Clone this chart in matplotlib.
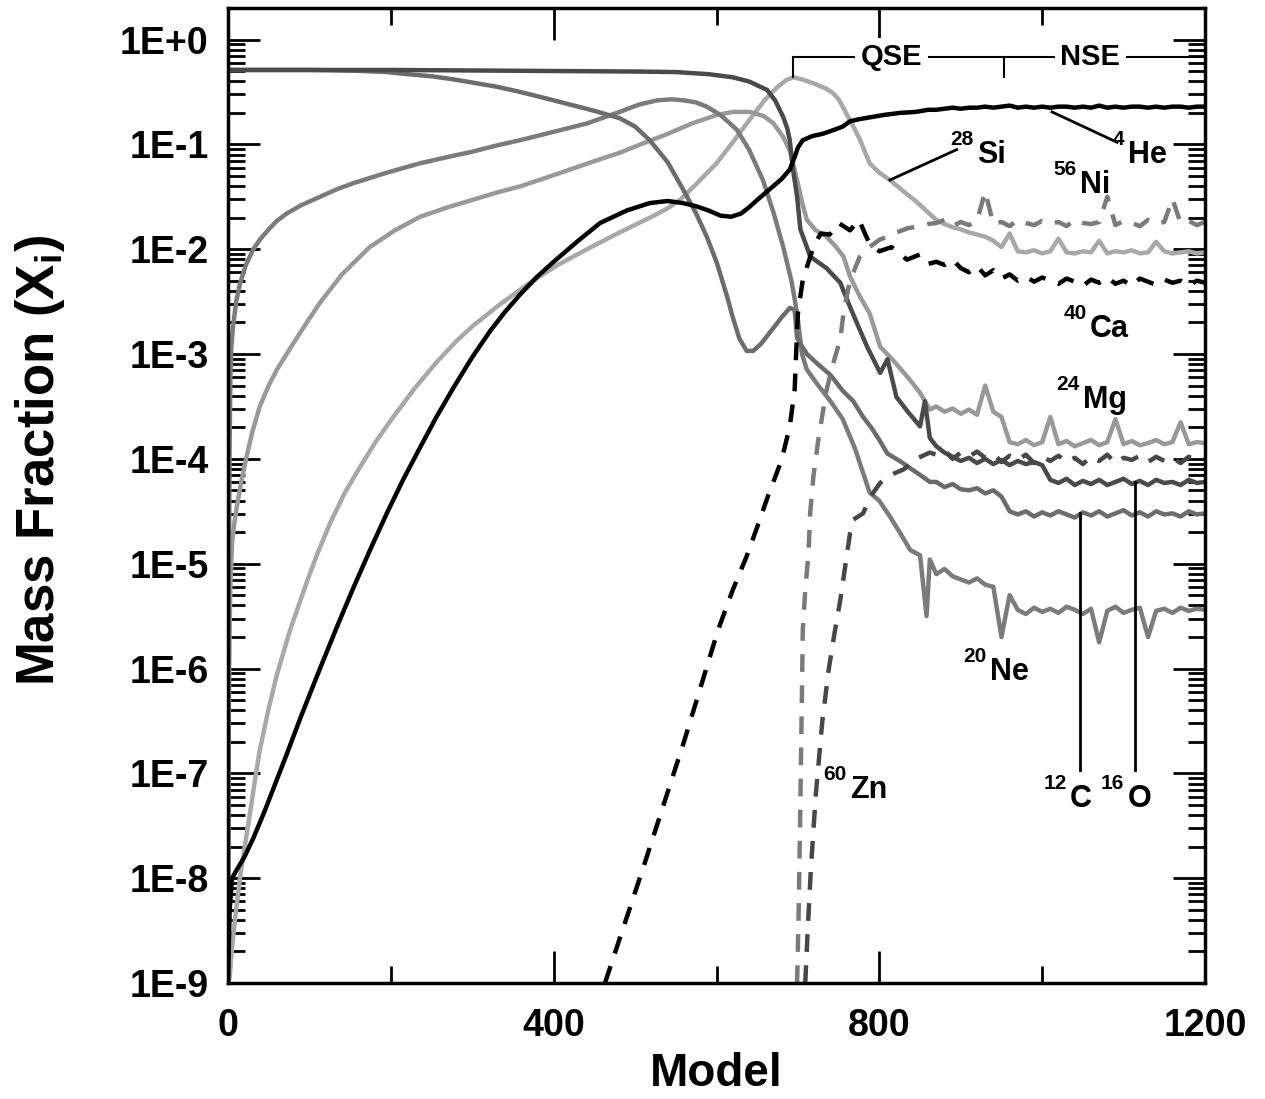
import numpy as np
import matplotlib
matplotlib.use("Agg")
import matplotlib.pyplot as plt

plt.rcParams["font.family"] = ["Liberation Sans", "DejaVu Sans"]
plt.rcParams["font.weight"] = "bold"
plt.rcParams["mathtext.fontset"] = "custom"
plt.rcParams["mathtext.rm"] = "Liberation Sans:bold"
plt.rcParams["mathtext.bf"] = "Liberation Sans:bold"

# ---- data: model number vs log10(mass fraction) ----
# noisy tails share one model grid
tail_model = list(range(870, 1201, 10))

he_x = [0, 2, 5, 10, 20, 31, 45, 60, 72, 90, 113, 135, 154, 175, 195, 215, 236, 256, 277,
        300, 322, 340, 359, 380, 400, 430, 457, 490, 518, 540, 559, 575, 590, 605, 618, 630,
        640, 650, 665, 680, 690, 696, 700, 706, 718, 730, 745, 755, 764, 775, 790, 805, 825,
        845, 860]
he_y = [-9.0, -8.3, -8.0, -7.93, -7.80, -7.62, -7.36, -7.06, -6.82, -6.45, -6.0, -5.58,
        -5.23, -4.86, -4.52, -4.20, -3.89, -3.60, -3.32, -3.03, -2.78, -2.60, -2.43, -2.26,
        -2.12, -1.92, -1.75, -1.63, -1.56, -1.54, -1.56, -1.59, -1.63, -1.68, -1.69, -1.66,
        -1.60, -1.53, -1.43, -1.33, -1.24, -1.12, -1.03, -0.96, -0.92, -0.90, -0.86, -0.83,
        -0.78, -0.76, -0.74, -0.72, -0.70, -0.69, -0.67]
he_tail = [-0.67, -0.66, -0.65, -0.66, -0.65, -0.65, -0.64, -0.65, -0.64, -0.63, -0.65, -0.64,
           -0.65, -0.64, -0.65, -0.64, -0.64, -0.65, -0.64, -0.65, -0.63, -0.65, -0.64, -0.65,
           -0.64, -0.64, -0.65, -0.64, -0.65, -0.64, -0.64, -0.65, -0.64, -0.64]

c_x = [0, 100, 140, 166, 195, 220, 250, 277, 300, 330, 359, 390, 420, 450, 481, 500, 518,
       540, 559, 575, 588, 600, 613, 620, 628, 637, 645, 655, 665, 680, 690, 696, 699, 711,
       725, 740, 755, 768, 780, 790, 800, 810, 825, 840, 855, 862]
c_y = [-0.29, -0.29, -0.295, -0.30, -0.31, -0.33, -0.35, -0.38, -0.41, -0.45, -0.50, -0.56,
       -0.62, -0.68, -0.75, -0.83, -0.96, -1.17, -1.43, -1.66, -1.88, -2.12, -2.45, -2.65,
       -2.85, -2.97, -2.97, -2.90, -2.80, -2.65, -2.56, -2.58, -2.85, -3.00, -3.10, -3.20,
       -3.35, -3.45, -3.60, -3.70, -3.82, -3.95, -4.02, -4.10, -4.18, -4.22]
c_tail = [-4.22, -4.27, -4.24, -4.29, -4.30, -4.28, -4.33, -4.30, -4.36, -4.50, -4.53, -4.50,
          -4.55, -4.51, -4.54, -4.50, -4.53, -4.56, -4.51, -4.54, -4.50, -4.55, -4.52, -4.49,
          -4.54, -4.51, -4.55, -4.50, -4.53, -4.52, -4.55, -4.50, -4.53, -4.52]

o_x = [0, 200, 400, 500, 550, 590, 620, 640, 662, 672, 682, 687, 690, 694, 699, 703, 711,
       715, 735, 752, 764, 775, 785, 801, 810, 821, 835, 850, 856, 862]
o_y = [-0.29, -0.29, -0.30, -0.305, -0.31, -0.33, -0.36, -0.40, -0.48, -0.58, -0.74, -0.85,
       -0.96, -1.24, -1.50, -1.81, -1.98, -2.07, -2.18, -2.32, -2.55, -2.75, -2.93, -3.18,
       -3.05, -3.41, -3.55, -3.69, -3.45, -3.80]
o_tail = [-3.88, -3.94, -3.98, -4.02, -3.99, -4.04, -4.00, -4.05, -4.01, -4.06, -4.02, -4.05,
          -4.03, -4.06, -4.20, -4.23, -4.19, -4.25, -4.21, -4.24, -4.20, -4.25, -4.22, -4.19,
          -4.24, -4.21, -4.25, -4.20, -4.23, -4.22, -4.25, -4.20, -4.23, -4.22]

ne_x = [0, 0.3, 0.6, 1, 1.5, 2, 3, 4, 6, 10, 15, 22, 31, 40, 50, 60, 72, 90, 113, 133, 154,
        195, 236, 270, 300, 330, 359, 400, 441, 481, 505, 527, 545, 560, 575, 588, 605, 625,
        640, 657, 670, 682, 692, 699, 705, 711, 725, 740, 755, 770, 788, 800, 813, 825, 838,
        850, 858, 862]
ne_y = [-9.0, -8.0, -7.0, -5.8, -4.6, -3.85, -3.2, -2.95, -2.75, -2.50, -2.32, -2.15, -2.00,
        -1.90, -1.81, -1.73, -1.66, -1.58, -1.50, -1.43, -1.37, -1.27, -1.18, -1.12, -1.07,
        -1.01, -0.96, -0.88, -0.80, -0.69, -0.62, -0.58, -0.57, -0.58, -0.60, -0.64, -0.72,
        -0.86, -1.05, -1.34, -1.65, -1.98, -2.30, -2.61, -3.00, -3.15, -3.30, -3.45, -3.62,
        -3.90, -4.32, -4.40, -4.55, -4.70, -4.87, -4.92, -5.50, -4.96]
ne_tail = [-5.10, -5.05, -5.12, -5.15, -5.18, -5.14, -5.20, -5.22, -5.70, -5.30, -5.44, -5.48,
           -5.42, -5.46, -5.43, -5.47, -5.41, -5.44, -5.48, -5.43, -5.75, -5.45, -5.41, -5.47,
           -5.44, -5.42, -5.70, -5.45, -5.43, -5.47, -5.42, -5.45, -5.43, -5.44]

mg_x = [0, 0.5, 1, 2, 3, 5, 8, 11, 16, 23, 30, 39, 50, 60, 76, 95, 113, 140, 174, 205, 236,
        270, 300, 330, 359, 390, 420, 450, 481, 510, 540, 570, 600, 620, 641, 658, 670, 682,
        690, 694, 699, 705, 711, 722, 735, 746, 756, 764, 776, 788, 801, 817, 838, 850, 862]
mg_y = [-9.0, -7.5, -6.5, -5.6, -5.2, -4.8, -4.6, -4.45, -4.23, -3.97, -3.74, -3.50, -3.30,
        -3.15, -2.95, -2.72, -2.51, -2.24, -1.98, -1.82, -1.69, -1.60, -1.53, -1.46, -1.40,
        -1.32, -1.24, -1.16, -1.08, -0.99, -0.90, -0.80, -0.72, -0.69, -0.69, -0.73, -0.80,
        -0.93, -1.06, -1.18, -1.34, -1.55, -1.72, -1.82, -1.88, -1.97, -2.07, -2.26, -2.45,
        -2.61, -2.93, -3.06, -3.25, -3.37, -3.53]
mg_tail = [-3.50, -3.55, -3.52, -3.57, -3.53, -3.58, -3.30, -3.55, -3.60, -3.84, -3.86, -3.82,
           -3.87, -3.84, -3.60, -3.86, -3.83, -3.88, -3.85, -3.82, -3.87, -3.84, -3.62, -3.86,
           -3.83, -3.87, -3.85, -3.82, -3.86, -3.84, -3.65, -3.86, -3.84, -3.85]

si_x = [0, 2, 4, 6, 10, 15, 21, 27, 33, 39, 50, 60, 76, 97, 110, 125, 143, 162, 182, 203,
        230, 256, 280, 301, 335, 371, 405, 441, 481, 518, 540, 555, 575, 600, 620, 641, 660,
        674, 685, 694, 705, 720, 735, 743, 750, 755, 764, 776, 788, 800, 813, 830, 846, 860]
si_y = [-9.0, -8.95, -8.75, -8.58, -8.30, -7.98, -7.68, -7.38, -7.07, -6.78, -6.38, -6.06,
        -5.64, -5.17, -4.90, -4.62, -4.33, -4.08, -3.83, -3.60, -3.32, -3.08, -2.88, -2.73,
        -2.52, -2.32, -2.15, -2.00, -1.84, -1.70, -1.61, -1.53, -1.38, -1.18, -0.98, -0.76,
        -0.57, -0.46, -0.39, -0.36, -0.38, -0.42, -0.47, -0.51, -0.57, -0.64, -0.77, -0.95,
        -1.18, -1.27, -1.34, -1.45, -1.55, -1.65]
si_tail = [-1.72, -1.76, -1.79, -1.81, -1.84, -1.86, -1.88, -1.92, -1.98, -1.85, -2.02, -2.03,
           -2.01, -2.04, -2.02, -1.90, -2.03, -2.04, -2.02, -2.03, -1.92, -2.04, -2.02, -2.03,
           -2.01, -2.04, -2.03, -1.93, -2.02, -2.04, -2.03, -2.02, -2.04, -2.03]

ca_x = [463, 510, 560, 602, 620, 637, 650, 663, 680, 690, 696, 698, 700, 706, 719, 728, 739,
        750, 764, 775, 788, 800, 815, 834, 850, 860]
ca_y = [-9.0, -7.9, -6.7, -5.63, -5.25, -4.93, -4.65, -4.36, -4.01, -3.69, -3.34, -2.96,
        -2.61, -2.29, -1.98, -1.85, -1.86, -1.75, -1.82, -1.72, -1.95, -2.02, -1.98, -2.10,
        -2.05, -2.14]
ca_tail = [-2.12, -2.15, -2.10, -2.18, -2.22, -2.16, -2.25, -2.20, -2.28, -2.24, -2.30, -2.26,
           -2.31, -2.27, -2.30, -2.33, -2.28, -2.31, -2.35, -2.29, -2.32, -2.27, -2.33, -2.30,
           -2.35, -2.28, -2.31, -2.34, -2.29, -2.32, -2.30, -2.35, -2.30, -2.32]

ni_x = [699, 701, 703, 706, 709, 713, 715, 719, 725, 735, 743, 752, 756, 760, 764, 776, 788,
        800, 810, 821, 835, 850, 860]
ni_y = [-9.0, -8.3, -7.3, -5.63, -5.25, -4.90, -4.52, -4.17, -3.82, -3.35, -3.10, -2.86,
        -2.61, -2.45, -2.30, -2.07, -1.98, -1.91, -1.88, -1.84, -1.80, -1.78, -1.76]
ni_tail = [-1.75, -1.72, -1.78, -1.74, -1.77, -1.73, -1.45, -1.76, -1.74, -1.78, -1.72, -1.75,
           -1.77, -1.73, -1.76, -1.74, -1.78, -1.72, -1.75, -1.76, -1.74, -1.50, -1.77, -1.73,
           -1.75, -1.78, -1.72, -1.76, -1.74, -1.52, -1.75, -1.73, -1.77, -1.74]

zn_x = [709, 712, 716, 722, 730, 738, 745, 752, 758, 764, 768, 780, 790, 801, 815, 830, 845,
        862]
zn_y = [-9.0, -8.5, -7.9, -7.2, -6.5, -6.0, -5.66, -5.35, -5.03, -4.71, -4.58, -4.52, -4.35,
        -4.23, -4.15, -4.10, -4.00, -3.94]
zn_tail = [-3.96, -3.92, -4.00, -3.94, -3.98, -3.93, -3.99, -3.95, -4.03, -3.97, -4.01, -3.96,
           -4.04, -3.98, -4.02, -3.97, -4.03, -3.99, -4.05, -3.98, -4.02, -3.96, -4.04, -3.99,
           -4.01, -3.97, -4.03, -3.98, -4.02, -3.99, -4.04, -3.98, -4.01, -4.00]

y_tick_labels = ["1E-9", "1E-8", "1E-7", "1E-6", "1E-5", "1E-4", "1E-3", "1E-2", "1E-1", "1E+0"]
x_tick_labels = ["0", "400", "800", "1200"]

# ---- plot ----
fig = plt.figure(figsize=(12.65, 10.99), dpi=100)
ax = fig.add_axes([228 / 1265, 116 / 1099, 977 / 1265, 975 / 1099])


def curve(hx, hy, ty, **kw):
    x = np.r_[hx, tail_model]
    y = 10.0 ** np.r_[hy, ty]
    ax.plot(x, y, solid_joinstyle="round", **kw)


lw = 3.2
curve(si_x, si_y, si_tail, color="#a8a8a8", lw=lw)
curve(mg_x, mg_y, mg_tail, color="#999999", lw=lw)
curve(ne_x, ne_y, ne_tail, color="#7b7b7b", lw=lw)
curve(c_x, c_y, c_tail, color="#6c6c6c", lw=lw)
curve(o_x, o_y, o_tail, color="#4a4a4a", lw=lw)
curve(ni_x, ni_y, ni_tail, color="#7a7a7a", lw=lw, ls=(0, (4, 3)))
curve(zn_x, zn_y, zn_tail, color="#474747", lw=lw, ls=(0, (4, 3)))
curve(ca_x, ca_y, ca_tail, color="black", lw=lw, ls=(0, (4, 3)))
curve(he_x, he_y, he_tail, color="black", lw=lw)

ax.set_yscale("log")
ax.set_xlim(0, 1200)
ax.set_ylim(1e-9, 2.0)

ax.set_xticks([0, 400, 800, 1200])
ax.set_xticklabels(x_tick_labels)
ax.set_xticks([200, 600, 1000], minor=True)
ax.set_yticks([10.0 ** k for k in range(-9, 1)])
ax.set_yticklabels(y_tick_labels)
ax.set_yticks([m * 10.0 ** k for k in range(-9, 0) for m in range(2, 10)], minor=True)
ax.yaxis.set_minor_formatter(matplotlib.ticker.NullFormatter())

ax.tick_params(which="both", direction="in", top=True, right=True, width=2)
ax.tick_params(which="major", length=23)
ax.tick_params(which="minor", length=12)
ax.tick_params(axis="x", which="major", pad=18, labelsize=27)
ax.tick_params(axis="y", which="major", pad=14, labelsize=27)
for s in ax.spines.values():
    s.set_linewidth(2.5)

fig.text(716 / 1265, 1 - 1074 / 1099, "Model", fontsize=33, ha="center", va="center")
fig.text(40 / 1265, 1 - 460 / 1099, r"Mass Fraction (X$_\mathbf{i}$)", fontsize=38,
         rotation=90, ha="center", va="center")

# QSE / NSE bracket
yb, yt = 10 ** -0.17, 10 ** -0.355
ax.plot([694, 1200], [yb, yb], color="black", lw=1.5, clip_on=False)
ax.plot([694, 694], [yb, yt], color="black", lw=1.5)
ax.plot([953, 953], [yb, yt], color="black", lw=1.5)
for xx, s in [(815, "QSE"), (1059, "NSE")]:
    ax.text(xx, yb, s, fontsize=21, ha="center", va="center",
            bbox=dict(fc="white", ec="none", pad=4))

# leader lines
ax.plot([1012, 1092], [10 ** -0.69, 10 ** -0.98], color="black", lw=2)
ax.plot([895, 813], [10 ** -1.05, 10 ** -1.34], color="black", lw=2)
ax.plot([1046, 1046], [10 ** -4.52, 10 ** -6.97], color="black", lw=2)
ax.plot([1114, 1114], [10 ** -4.22, 10 ** -6.97], color="black", lw=2)

# isotope labels: (mass, element, x, log10 baseline)
labels = [("4", "He", 1105, -1.176), ("28", "Si", 920, -1.176), ("56", "Ni", 1046, -1.46),
          ("40", "Ca", 1059, -2.836), ("24", "Mg", 1050, -3.513), ("20", "Ne", 936, -6.11),
          ("60", "Zn", 764, -7.235), ("12", "C", 1034, -7.32), ("16", "O", 1105, -7.32)]
for mass, el, xx, ly in labels:
    ax.text(xx, 10 ** ly, el, fontsize=22, ha="left", va="baseline")
    ax.text(xx - 4, 10 ** (ly + 0.17), mass, fontsize=15, ha="right", va="baseline")

fig.savefig("out.png", dpi=100)
